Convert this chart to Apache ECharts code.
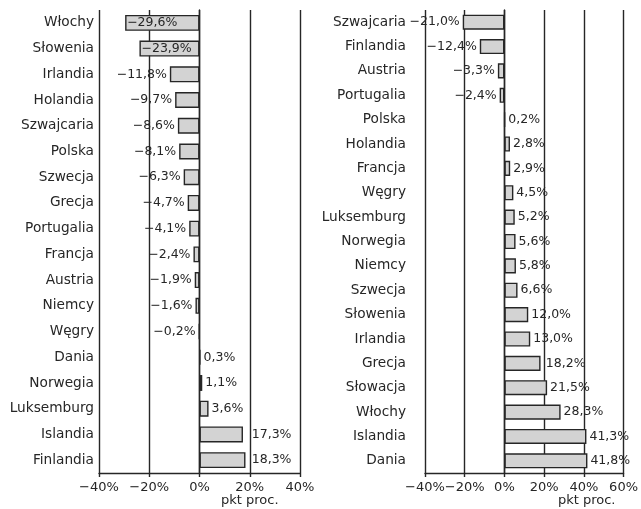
<!DOCTYPE html>
<html>
<head>
<meta charset="utf-8">
<script src="https://cdn.jsdelivr.net/npm/echarts@6.0.0/dist/echarts.min.js"></script>
<style>
  html, body { margin: 0; padding: 0; background: #fff; }
  #chart { width: 641px; height: 509px; }
</style>
</head>
<body>
<div id="chart"></div>
<script>
// Change in percentage points, two rankings side by side
const leftCategories = ['Włochy', 'Słowenia', 'Irlandia', 'Holandia', 'Szwajcaria', 'Polska', 'Szwecja', 'Grecja', 'Portugalia', 'Francja', 'Austria', 'Niemcy', 'Węgry', 'Dania', 'Norwegia', 'Luksemburg', 'Islandia', 'Finlandia'];
const leftValues = [-29.6, -23.9, -11.8, -9.7, -8.6, -8.1, -6.3, -4.7, -4.1, -2.4, -1.9, -1.6, -0.2, 0.3, 1.1, 3.6, 17.3, 18.3];

const rightCategories = ['Szwajcaria', 'Finlandia', 'Austria', 'Portugalia', 'Polska', 'Holandia', 'Francja', 'Węgry', 'Luksemburg', 'Norwegia', 'Niemcy', 'Szwecja', 'Słowenia', 'Irlandia', 'Grecja', 'Słowacja', 'Włochy', 'Islandia', 'Dania'];
const rightValues = [-21.0, -12.4, -3.3, -2.4, 0.2, 2.8, 2.9, 4.5, 5.2, 5.6, 5.8, 6.6, 12.0, 13.0, 18.2, 21.5, 28.3, 41.3, 41.8];

const leftTicks = [-40, -20, 0, 20, 40];
const rightTicks = [-40, -20, 0, 20, 40, 60];
const axisName = 'pkt proc.';

const FONT = '"DejaVu Sans", sans-serif';
const INK = '#262626';
const LABEL_SIZE = 12.5;
const CAT_SIZE = 13.7;
const LABEL_GAP = 3;

const fmt = v => (v < 0 ? '\u2212' : '') + Math.abs(v).toFixed(1).replace('.', ',') + '%';
const tickFmt = v => (v < 0 ? '\u2212' : '') + Math.abs(v) + '%';

const measureCtx = document.createElement('canvas').getContext('2d');
function textWidth(str, size) {
  measureCtx.font = size + 'px ' + FONT;
  return measureCtx.measureText(str).width;
}

const panels = [
  { cats: leftCategories, vals: leftValues, ticks: leftTicks,
    grid: { left: 99, right: 341, top: 10, bottom: 36 }, catMargin: 5 },
  { cats: rightCategories, vals: rightValues, ticks: rightTicks,
    grid: { left: 425, right: 15, top: 10, bottom: 36 }, catMargin: 19 }
];

const chart = echarts.init(document.getElementById('chart'), null, { renderer: 'canvas' });

function baseOption() {
  return {
    animation: false,
    backgroundColor: '#fff',
    textStyle: { fontFamily: FONT, color: INK },
    grid: panels.map(p => Object.assign({ containLabel: false }, p.grid)),
    xAxis: panels.map((p, i) => ({
      type: 'value',
      gridIndex: i,
      min: p.ticks[0],
      max: p.ticks[p.ticks.length - 1],
      interval: p.ticks[1] - p.ticks[0],
      axisLine: { show: true, onZero: false, lineStyle: { color: INK, width: 1.4 } },
      axisTick: { show: true, length: 4, lineStyle: { color: INK, width: 1.4 } },
      axisLabel: { formatter: tickFmt, fontSize: 13, color: INK, fontFamily: FONT, margin: 8 },
      splitLine: { show: true, lineStyle: { color: INK, width: 1.4 } },
      name: axisName,
      nameLocation: 'end',
      nameGap: 0,
      nameTextStyle: { fontSize: 13, color: INK, fontFamily: FONT, align: 'center', verticalAlign: 'top', padding: [21, 0, 0, 0] }
    })),
    yAxis: panels.map((p, i) => ({
      type: 'category',
      gridIndex: i,
      inverse: true,
      data: p.cats,
      axisLine: { show: true, lineStyle: { color: INK, width: 1.4 } },
      axisTick: { show: false },
      axisLabel: { fontSize: CAT_SIZE, color: INK, fontFamily: FONT, margin: p.catMargin },
      splitLine: { show: false }
    })),
    series: panels.map((p, i) => ({
      type: 'bar',
      xAxisIndex: i,
      yAxisIndex: i,
      barWidth: '62%',
      itemStyle: { color: '#d3d3d3', borderColor: INK, borderWidth: 1.4 },
      label: { show: true, formatter: d => fmt(d.value), fontSize: LABEL_SIZE, color: INK, fontFamily: FONT },
      data: p.vals.map(v => ({ value: v }))
    }))
  };
}

chart.setOption(baseOption());

// Place value labels: negatives to the left of the bar (inside if the text
// would run into the category names), positives to the right, stepping
// past a gridline the bar end is pressed up against.
const opt = baseOption();
panels.forEach((p, i) => {
  const px = v => chart.convertToPixel({ xAxisIndex: i }, v);
  const step = px(p.ticks[1]) - px(p.ticks[0]);
  opt.xAxis[i].nameGap = -step;
  const catEdge = px(p.ticks[0]) - p.catMargin;
  opt.series[i].data = p.vals.map(v => {
    const end = px(v);
    const w = textWidth(fmt(v), LABEL_SIZE);
    if (v < 0) {
      if (end - LABEL_GAP - w < catEdge) {
        return { value: v, label: { position: 'insideLeft', distance: 2 } };
      }
      return { value: v, label: { position: 'left', distance: LABEL_GAP } };
    }
    let dist = LABEL_GAP;
    const nextTick = p.ticks.find(t => t > v);
    if (nextTick !== undefined) {
      const gap = px(nextTick) - end;
      if (gap > 0 && gap < 8) dist = gap + 2;
    }
    return { value: v, label: { position: 'right', distance: dist } };
  });
});
chart.setOption(opt);
</script>
</body>
</html>
